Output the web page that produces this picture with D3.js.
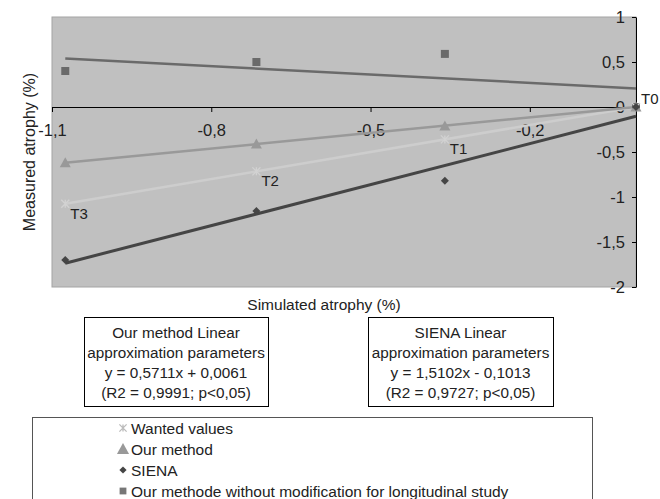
<!DOCTYPE html>
<html>
<head>
<meta charset="utf-8">
<script src="https://cdn.jsdelivr.net/npm/d3@7/dist/d3.min.js"></script>
<style>
  body { margin: 0; background: #fff; }
  svg { display: block; font-family: "Liberation Sans", Arial, sans-serif; }
</style>
</head>
<body>
<svg id="chart" width="660" height="499"></svg>
<script>
// ---- data ----
const timePoints = ["T3", "T2", "T1", "T0"];
const simulated = [-1.075, -0.715, -0.36, 0];
const wantedValues = [-1.075, -0.715, -0.36, 0];
const ourMethod = [-0.62, -0.41, -0.21, 0];
const siena = [-1.70, -1.156, -0.82, 0];
const withoutModification = [0.40, 0.50, 0.59, 0];
const xTicks = [-1.1, -0.8, -0.5, -0.2];
const yTicks = [1, 0.5, 0, -0.5, -1, -1.5, -2];
const ourBoxLines = ["Our method Linear", "approximation parameters", "y = 0,5711x + 0,0061", "(R2 = 0,9991; p<0,05)"];
const sienaBoxLines = ["SIENA Linear", "approximation parameters", "y = 1,5102x - 0,1013", "(R2 = 0,9727; p<0,05)"];
const legendLabels = ["Wanted values", "Our method", "SIENA", "Our methode without modification for longitudinal study"];

// ---- layout ----
const svg = d3.select("#chart");
const FONT = "Liberation Sans, Arial, sans-serif";
const plot = { left: 52, right: 636, top: 17, bottom: 287 };
const x = d3.scaleLinear().domain([-1.1, 0]).range([plot.left, plot.right]);
const y = d3.scaleLinear().domain([-2, 1]).range([plot.bottom, plot.top]);
const locale = d3.formatLocale({ decimal: ",", thousands: " ", grouping: [3], currency: ["", ""] });
const fmt = v => locale.format("~g")(v).replace("−", "-");

// plot background
svg.append("rect")
  .attr("x", plot.left).attr("y", plot.top)
  .attr("width", plot.right - plot.left).attr("height", plot.bottom - plot.top)
  .attr("fill", "#c0c0c0").attr("stroke", "#a4a4a4").attr("stroke-width", 1);

// x axis at y = 0
const xAxisG = svg.append("g").attr("transform", `translate(0,${y(0)})`)
  .call(d3.axisBottom(x).tickValues(xTicks).tickSize(5).tickPadding(12).tickFormat(fmt).tickSizeOuter(0));
xAxisG.select(".domain").attr("stroke", "#000");
xAxisG.selectAll(".tick line").attr("stroke", "#000");
xAxisG.selectAll(".tick text").attr("font-size", 16.5).attr("fill", "#222").attr("font-family", FONT);

// y axis at right edge
const yAxisG = svg.append("g").attr("transform", `translate(${plot.right},0)`)
  .call(d3.axisLeft(y).tickValues(yTicks).tickSize(4).tickPadding(7).tickFormat(fmt).tickSizeOuter(0));
yAxisG.select(".domain").attr("stroke", "#000");
yAxisG.selectAll(".tick line").attr("stroke", "#000");
yAxisG.selectAll(".tick text").attr("font-size", 16.5).attr("fill", "#222").attr("font-family", FONT);

// linear regression helper
function fit(xs, ys) {
  const mx = d3.mean(xs), my = d3.mean(ys);
  let sxy = 0, sxx = 0;
  xs.forEach((xv, i) => { sxy += (xv - mx) * (ys[i] - my); sxx += (xv - mx) ** 2; });
  const m = sxy / sxx;
  return { m, b: my - m * mx };
}

const series = [
  { values: withoutModification, color: "#6a6a6a", width: 2.5, marker: "square" },
  { values: wantedValues, color: "#cdcdcd", width: 2.5, marker: "star" },
  { values: ourMethod, color: "#999999", width: 2.5, marker: "triangle" },
  { values: siena, color: "#454545", width: 3, marker: "diamond" }
];
const xMin = d3.min(simulated), xMax = d3.max(simulated);

series.forEach(s => {
  const f = fit(simulated, s.values);
  svg.append("line")
    .attr("x1", x(xMin)).attr("y1", y(f.m * xMin + f.b))
    .attr("x2", x(xMax)).attr("y2", y(f.m * xMax + f.b))
    .attr("stroke", s.color).attr("stroke-width", s.width);
});

function drawMarker(g, type, cx, cy, color, scale) {
  const k = scale || 1;
  if (type === "square") {
    g.append("rect").attr("x", cx - 4 * k).attr("y", cy - 4 * k).attr("width", 8 * k).attr("height", 8 * k).attr("fill", color);
  } else if (type === "triangle") {
    g.append("path").attr("d", `M${cx},${cy - 5.5 * k}L${cx + 5.5 * k},${cy + 4.5 * k}L${cx - 5.5 * k},${cy + 4.5 * k}Z`).attr("fill", color);
  } else if (type === "diamond") {
    g.append("path").attr("d", `M${cx},${cy - 4 * k}L${cx + 4 * k},${cy}L${cx},${cy + 4 * k}L${cx - 4 * k},${cy}Z`).attr("fill", color);
  } else if (type === "star") {
    const r = 4 * k;
    g.append("path")
      .attr("d", `M${cx - r},${cy - r}L${cx + r},${cy + r}M${cx - r},${cy + r}L${cx + r},${cy - r}M${cx},${cy - r}L${cx},${cy + r}`)
      .attr("stroke", color).attr("stroke-width", 1.3).attr("fill", "none");
  }
}

const markerColors = { square: "#6a6a6a", star: "#d2d2d2", triangle: "#999999", diamond: "#454545" };
series.forEach(s => {
  const g = svg.append("g");
  s.values.forEach((v, i) => drawMarker(g, s.marker, x(simulated[i]), y(v), markerColors[s.marker]));
});

// time point labels near wanted values
timePoints.forEach((t, i) => {
  const isLast = i === timePoints.length - 1;
  svg.append("text")
    .attr("x", x(simulated[i]) + 5)
    .attr("y", y(wantedValues[i]) + (isLast ? -3 : 15))
    .attr("font-size", 15).attr("fill", "#222").text(t);
});

// axis titles
svg.append("text").attr("x", 324).attr("y", 310).attr("text-anchor", "middle")
  .attr("font-size", 15.5).attr("fill", "#222").text("Simulated atrophy (%)");
svg.append("text").attr("transform", "translate(35,152) rotate(-90)").attr("text-anchor", "middle")
  .attr("font-size", 16).attr("fill", "#222").text("Measured atrophy (%)");

// parameter boxes
function paramBox(x0, x1, y0, y1, lines) {
  svg.append("rect").attr("x", x0 + 0.5).attr("y", y0 + 0.5).attr("width", x1 - x0).attr("height", y1 - y0)
    .attr("fill", "#fff").attr("stroke", "#000").attr("stroke-width", 1);
  lines.forEach((l, i) => {
    svg.append("text").attr("x", (x0 + x1) / 2).attr("y", y0 + 20.5 + i * 20)
      .attr("text-anchor", "middle").attr("font-size", 15.3).attr("fill", "#222").text(l);
  });
}
paramBox(84, 268, 317, 406, ourBoxLines);
paramBox(368, 553, 317, 406, sienaBoxLines);

// legend
svg.append("rect").attr("x", 32.5).attr("y", 417.5).attr("width", 560).attr("height", 100)
  .attr("fill", "#fff").attr("stroke", "#555").attr("stroke-width", 1);
const legendMarkers = ["star", "triangle", "diamond", "square"];
const legendMarkerColors = ["#bbbbbb", "#999999", "#454545", "#777777"];
legendLabels.forEach((lab, i) => {
  const cy = 428 + i * 21;
  const g = svg.append("g");
  drawMarker(g, legendMarkers[i], 123, cy, legendMarkerColors[i], i === 3 ? 0.85 : (i === 1 ? 1.1 : 0.9));
  svg.append("text").attr("x", 131).attr("y", cy + 5.5).attr("font-size", 15.5).attr("fill", "#222").text(lab);
});
</script>
</body>
</html>
